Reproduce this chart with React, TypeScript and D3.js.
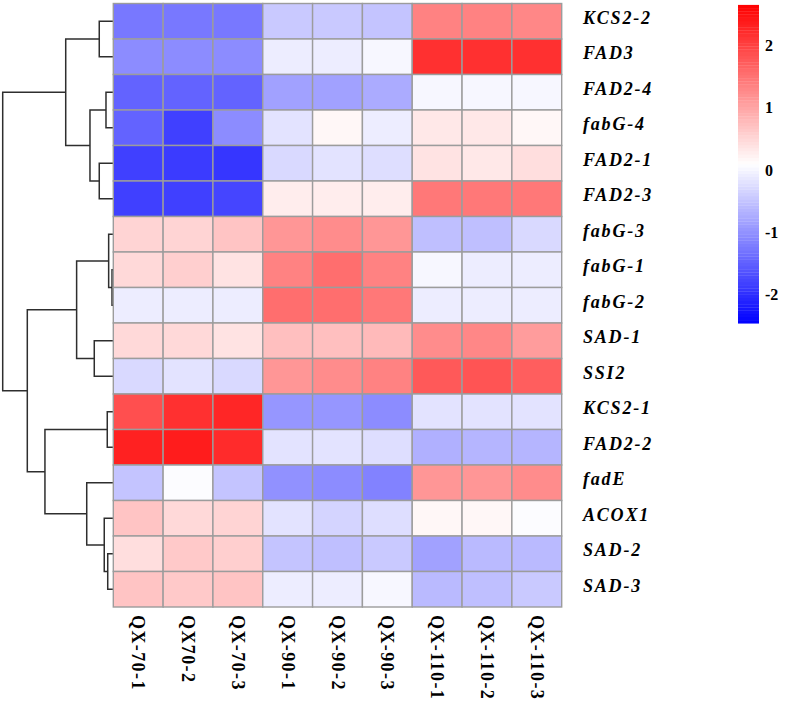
import React from 'react';
import * as d3 from 'd3';

const genes = ['KCS2-2', 'FAD3', 'FAD2-4', 'fabG-4', 'FAD2-1', 'FAD2-3', 'fabG-3', 'fabG-1', 'fabG-2',
  'SAD-1', 'SSI2', 'KCS2-1', 'FAD2-2', 'fadE', 'ACOX1', 'SAD-2', 'SAD-3'];
const samples = ['QX-70-1', 'QX70-2', 'QX-70-3', 'QX-90-1', 'QX-90-2', 'QX-90-3', 'QX-110-1', 'QX-110-2', 'QX-110-3'];

// z-scored expression, one row per gene
const values = [
  [-1.26, -1.28, -1.24, -0.46, -0.46, -0.51, 1.37, 1.37, 1.32],
  [-1.08, -1.06, -1.08, -0.06, -0.08, 0.0, 2.15, 2.15, 2.15],
  [-1.46, -1.48, -1.44, -0.86, -0.86, -0.76, 0.03, 0.03, 0.03],
  [-1.46, -1.81, -1.04, -0.18, 0.17, -0.1, 0.3, 0.3, 0.15],
  [-1.84, -1.86, -1.91, -0.28, -0.21, -0.26, 0.4, 0.3, 0.43],
  [-1.8, -1.8, -1.78, 0.27, 0.27, 0.27, 1.45, 1.47, 1.43],
  [0.52, 0.52, 0.7, 1.13, 1.23, 1.13, -0.56, -0.56, -0.31],
  [0.5, 0.6, 0.37, 1.35, 1.57, 1.37, 0.03, -0.08, -0.08],
  [-0.08, -0.08, -0.08, 1.55, 1.55, 1.45, -0.08, -0.08, -0.08],
  [0.5, 0.5, 0.37, 0.73, 0.75, 0.79, 1.25, 1.3, 1.1],
  [-0.31, -0.21, -0.31, 1.15, 1.25, 1.37, 1.75, 1.8, 1.73],
  [1.85, 2.17, 2.25, -0.96, -0.96, -1.06, -0.18, -0.18, -0.18],
  [2.33, 2.35, 2.2, -0.18, -0.18, -0.26, -0.68, -0.64, -0.66],
  [-0.51, 0.05, -0.51, -1.01, -1.06, -1.18, 1.15, 1.15, 1.25],
  [0.7, 0.5, 0.55, -0.18, -0.36, -0.24, 0.15, 0.15, 0.05],
  [0.45, 0.65, 0.6, -0.51, -0.56, -0.46, -0.86, -0.61, -0.61],
  [0.7, 0.65, 0.7, -0.08, -0.08, 0.0, -0.61, -0.56, -0.46],
];

// hclust style merges: negative = leaf (1-based row), positive = earlier merge
const mergeA = [-8, -7, -16, -12, -3, -15, -1, -5, -10, 5, -14, 2, 7, 4, 12, 13];
const mergeB = [-9, 1, -17, -13, -4, 3, -2, -6, -11, 8, 6, 9, 10, 11, 14, 15];
const mergeHeight = [0.11, 0.4, 0.48, 0.52, 0.63, 0.78, 1.21, 1.21, 1.64, 2.01, 2.29, 3.16, 4.1, 5.89, 7.41, 9.53];

const legendTicks = [2, 1, 0, -1, -2];
const legendMin = -2.46;
const legendMax = 2.65;

const App = () => {
  const x = d3.scaleBand<string>().domain(samples).range([113.3, 561.7]);
  const y = d3.scaleBand<string>().domain(genes).range([3.5, 607]);
  const mid = (legendMin + legendMax) / 2;
  const color = d3.scaleLinear<string>().domain([legendMin, mid, legendMax])
    .range(['#0000ff', '#ffffff', '#ff0000']).interpolate(d3.interpolateRgb);
  const nBreaks = 100;
  const step = (legendMax - legendMin) / nBreaks;
  const binColor = (v: number) => {
    const i = Math.max(0, Math.min(nBreaks - 1, Math.floor((v - legendMin) / step)));
    return color(legendMin + (i + 0.5) * step);
  };

  const xd = d3.scaleLinear().domain([0, d3.max(mergeHeight)!]).range([113.3, 2.7]);
  const nodeY: number[] = [];
  const nodeX: number[] = [];
  const pos = (id: number) => id < 0
    ? { px: xd(0), py: y(genes[-id - 1])! + y.bandwidth() / 2 }
    : { px: nodeX[id - 1], py: nodeY[id - 1] };
  const links: string[] = [];
  mergeHeight.forEach((h, i) => {
    const a = pos(mergeA[i]);
    const b = pos(mergeB[i]);
    const hx = xd(h);
    nodeX[i] = hx;
    nodeY[i] = (a.py + b.py) / 2;
    const p = d3.path();
    p.moveTo(a.px, a.py);
    p.lineTo(hx, a.py);
    p.lineTo(hx, b.py);
    p.lineTo(b.px, b.py);
    links.push(p.toString());
  });

  const ly = d3.scaleLinear().domain([0, 1]).range([170, 107.7]);
  const legendBins = d3.range(nBreaks).map(i => legendMin + i * step);

  return (
    <svg width={787} height={702}
      style={{ position: 'absolute', left: 0, top: 0, display: 'block', fontFamily: '"Liberation Serif", "Times New Roman", serif' }}>
      <g>
        {links.map((d, i) => (
          <path key={i} d={d} fill="none" stroke="#2e2e2e" strokeWidth={1.5} />
        ))}
      </g>
      <g>
        {genes.map((g, r) => samples.map((s, c) => (
          <rect key={g + s} x={x(s)} y={y(g)} width={x.bandwidth()} height={y.bandwidth()}
            fill={binColor(values[r][c])} stroke="#9c9c9c" strokeWidth={1.4} />
        )))}
      </g>
      <g fontWeight="bold" fontStyle="italic" fontSize={18} letterSpacing={1.8}>
        {genes.map(g => (
          <text key={g} x={583} y={y(g)! + y.bandwidth() / 2 + 2.5}>{g}</text>
        ))}
      </g>
      <g fontWeight="bold" fontSize={18} letterSpacing={1.4}>
        {samples.map(s => (
          <text key={s} transform={`translate(${x(s)! + x.bandwidth() / 2},615) rotate(90)`} y={6}>{s}</text>
        ))}
      </g>
      <g>
        {legendBins.map((v, i) => (
          <rect key={i} x={738} y={ly(v + step)} width={21} height={ly(v) - ly(v + step) + 0.3}
            fill={color(v + step / 2)} />
        ))}
      </g>
      <g fontWeight="bold" fontSize={16}>
        {legendTicks.map(t => (
          <text key={t} x={765} y={ly(t)} dy="0.35em">{t}</text>
        ))}
      </g>
    </svg>
  );
};

export default App;
